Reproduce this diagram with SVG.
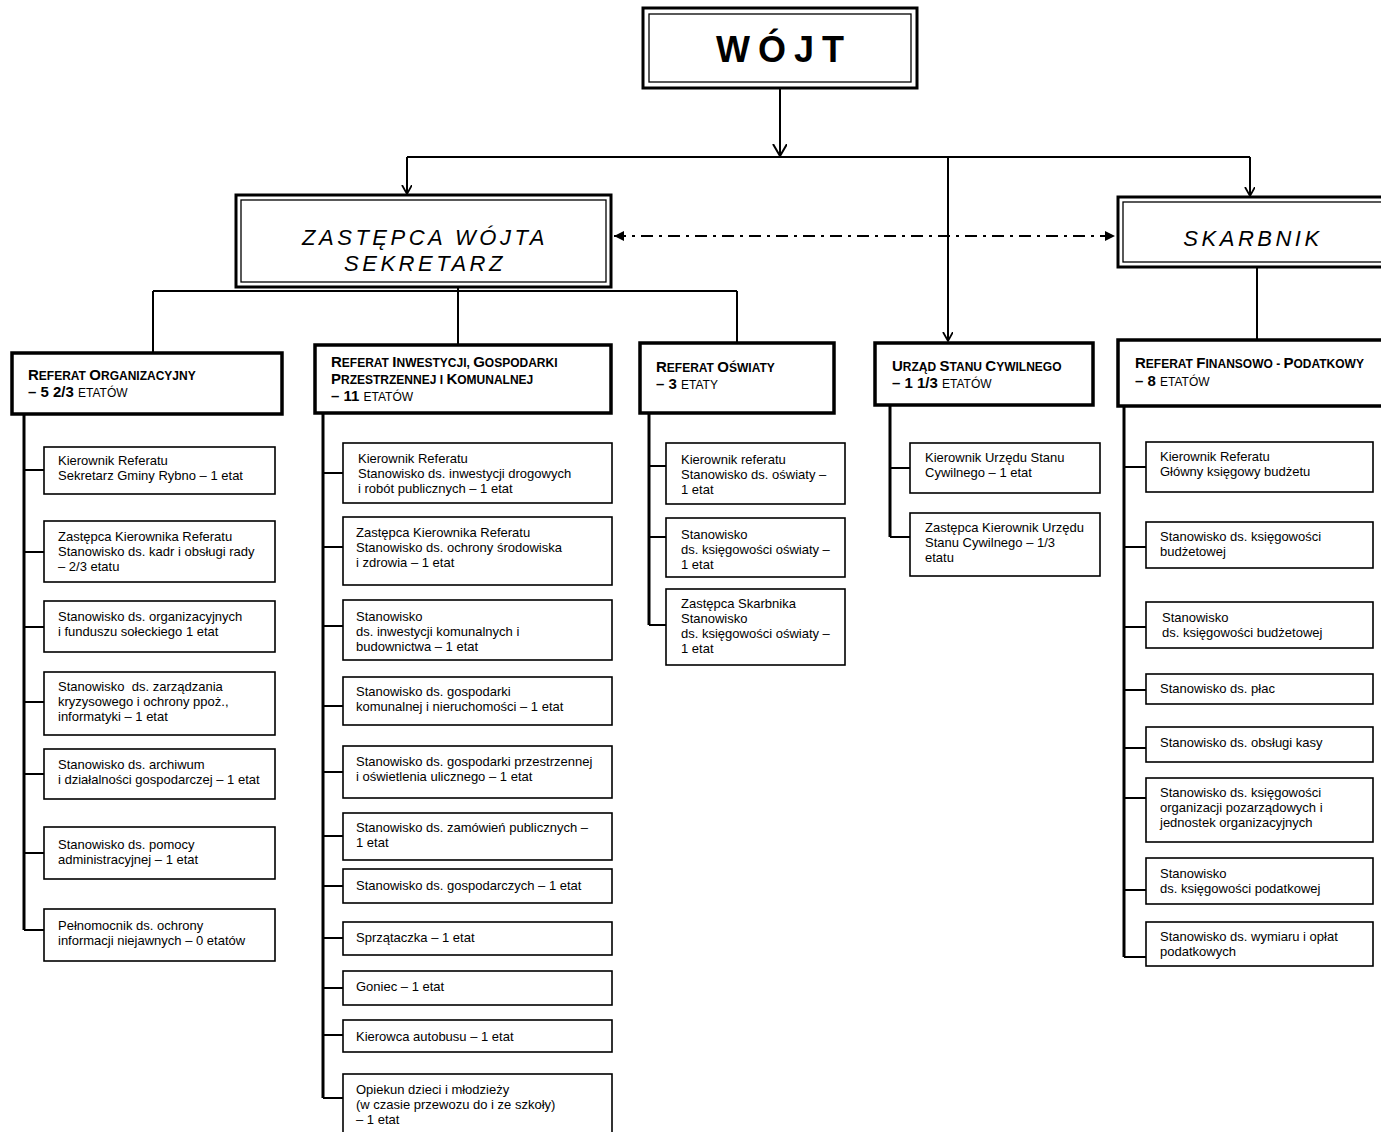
<svg xmlns="http://www.w3.org/2000/svg" width="1381" height="1132" viewBox="0 0 1381 1132">
<style>
.bg{fill:#ffffff}
.box{fill:#ffffff;stroke:#000;stroke-width:1.6}
.ref{fill:#ffffff;stroke:#000;stroke-width:3.5}
.dbl-o{fill:#ffffff;stroke:#000;stroke-width:3}
.dbl-i{fill:none;stroke:#000;stroke-width:1.3}
.ln{fill:none;stroke:#000;stroke-width:2}
.sp{fill:none;stroke:#000;stroke-width:3}
.br{fill:none;stroke:#000;stroke-width:2.2}
.dd{fill:none;stroke:#000;stroke-width:2;stroke-dasharray:12,6,3,6}
.t{font-family:"Liberation Sans",Arial,sans-serif;font-size:13px;fill:#000}
.h{font-family:"Liberation Sans",Arial,sans-serif;font-size:12px;font-weight:bold;fill:#000}
.L{font-size:15px}
.n{font-weight:normal}
.it{font-family:"Liberation Sans",Arial,sans-serif;font-size:22px;font-style:italic;letter-spacing:3.5px;fill:#000}
.w{font-family:"Liberation Sans",Arial,sans-serif;font-size:36px;font-weight:bold;letter-spacing:8px;fill:#000}
</style>
<defs>
<marker id="av" markerUnits="userSpaceOnUse" markerWidth="16" markerHeight="16" refX="12" refY="7" orient="auto">
<path d="M0,0 L12,7 L0,14" fill="none" stroke="#000" stroke-width="2"/>
</marker>
<marker id="avs" markerUnits="userSpaceOnUse" markerWidth="12" markerHeight="12" refX="9" refY="5" orient="auto">
<path d="M0,0 L9,5 L0,10" fill="none" stroke="#000" stroke-width="1.8"/>
</marker>
<marker id="af" markerUnits="userSpaceOnUse" markerWidth="12" markerHeight="12" refX="10" refY="5" orient="auto-start-reverse">
<path d="M0,0 L10,5 L0,10 Z" fill="#000"/>
</marker>
</defs>
<rect class="bg" x="0" y="0" width="1381" height="1132"/>

<g id="connectors">
<path class="ln" d="M780,88 V156" marker-end="url(#av)"/>
<path class="ln" d="M407,157 H1250"/>
<path class="ln" d="M407,157 V194" marker-end="url(#avs)"/>
<path class="ln" d="M948,157 V341" marker-end="url(#avs)"/>
<path class="ln" d="M1250,157 V196" marker-end="url(#avs)"/>
<path class="dd" d="M614,236 H1115" marker-start="url(#af)" marker-end="url(#af)"/>
<path class="ln" d="M458,287 V291 M153,291 H737 M153,291 V353 M458,291 V345 M737,291 V343"/>
<path class="ln" d="M1257,267 V340"/>
<path class="sp" d="M24,414 V930 M323,413 V1098 M649,413 V625 M890,405 V537 M1124,406 V957"/>
<path class="br" d="M24,470 H44 M24,552 H44 M24,627 H44 M24,702 H44 M24,774 H44 M24,853 H44 M24,930 H44"/>
<path class="br" d="M323,473 H343 M323,547 H343 M323,626 H343 M323,706 H343 M323,772 H343 M323,836 H343 M323,886 H343 M323,938 H343 M323,988 H343 M323,1035 H343 M323,1098 H343"/>
<path class="br" d="M649,466 H666 M649,537 H666 M649,625 H666"/>
<path class="br" d="M890,468 H910 M890,537 H910"/>
<path class="br" d="M1124,467 H1146 M1124,547 H1146 M1124,627 H1146 M1124,690 H1146 M1124,748 H1146 M1124,798 H1146 M1124,890 H1146 M1124,957 H1146"/>
</g>

<g id="wojt">
<rect class="dbl-o" x="643" y="8" width="274" height="80"/>
<rect class="dbl-i" x="649" y="14" width="262" height="68"/>
<text class="w" x="784" y="62" text-anchor="middle">WÓJT</text>
</g>

<g id="zastepca">
<rect class="dbl-o" x="236" y="195" width="375" height="92"/>
<rect class="dbl-i" x="241" y="200" width="365" height="82"/>
<text class="it" x="425" y="245" text-anchor="middle">ZASTĘPCA WÓJTA</text>
<text class="it" x="425" y="271" text-anchor="middle">SEKRETARZ</text>
</g>

<g id="skarbnik">
<rect class="dbl-o" x="1118" y="197" width="280" height="70"/>
<rect class="dbl-i" x="1123" y="202" width="270" height="60"/>
<text class="it" x="1253" y="246" text-anchor="middle">SKARBNIK</text>
</g>

<g id="ref-org">
<rect class="ref" x="12" y="353" width="270" height="61"/>
<text class="h" x="28" y="380"><tspan class="L">R</tspan>EFERAT <tspan class="L">O</tspan>RGANIZACYJNY</text>
<text class="h" x="28" y="397"><tspan class="L">– 5 2/3 </tspan><tspan class="n">ETATÓW</tspan></text>
</g>
<g id="ref-inw">
<rect class="ref" x="315" y="345" width="296" height="68"/>
<text class="h" x="331" y="367"><tspan class="L">R</tspan>EFERAT <tspan class="L">I</tspan>NWESTYCJI, <tspan class="L">G</tspan>OSPODARKI</text>
<text class="h" x="331" y="384"><tspan class="L">P</tspan>RZESTRZENNEJ I <tspan class="L">K</tspan>OMUNALNEJ</text>
<text class="h" x="331" y="401"><tspan class="L">– 11 </tspan><tspan class="n">ETATÓW</tspan></text>
</g>
<g id="ref-osw">
<rect class="ref" x="640" y="343" width="194" height="70"/>
<text class="h" x="656" y="372"><tspan class="L">R</tspan>EFERAT <tspan class="L">O</tspan>ŚWIATY</text>
<text class="h" x="656" y="389"><tspan class="L">– 3 </tspan><tspan class="n">ETATY</tspan></text>
</g>
<g id="ref-usc">
<rect class="ref" x="875" y="343" width="218" height="62"/>
<text class="h" x="892" y="371"><tspan class="L">U</tspan>RZĄD <tspan class="L">S</tspan>TANU <tspan class="L">C</tspan>YWILNEGO</text>
<text class="h" x="892" y="388"><tspan class="L">– 1 1/3 </tspan><tspan class="n">ETATÓW</tspan></text>
</g>
<g id="ref-fin">
<rect class="ref" x="1118" y="340" width="280" height="66"/>
<text class="h" x="1135" y="368"><tspan class="L">R</tspan>EFERAT <tspan class="L">F</tspan>INANSOWO - <tspan class="L">P</tspan>ODATKOWY</text>
<text class="h" x="1135" y="386"><tspan class="L">– 8 </tspan><tspan class="n">ETATÓW</tspan></text>
</g>

<g id="org-1"><rect class="box" x="44" y="447" width="231" height="47"/>
<text class="t" x="58" y="465">Kierownik Referatu</text><text class="t" x="58" y="480">Sekretarz Gminy Rybno – 1 etat</text></g>
<g id="org-2"><rect class="box" x="44" y="521" width="231" height="61"/>
<text class="t" x="58" y="541">Zastępca Kierownika Referatu</text><text class="t" x="58" y="556">Stanowisko ds. kadr i obsługi rady</text><text class="t" x="58" y="571">– 2/3 etatu</text></g>
<g id="org-3"><rect class="box" x="44" y="601" width="231" height="51"/>
<text class="t" x="58" y="621">Stanowisko ds. organizacyjnych</text><text class="t" x="58" y="636">i funduszu sołeckiego 1 etat</text></g>
<g id="org-4"><rect class="box" x="44" y="672" width="231" height="63"/>
<text class="t" x="58" y="691" xml:space="preserve">Stanowisko  ds. zarządzania</text><text class="t" x="58" y="706">kryzysowego i ochrony ppoż.,</text><text class="t" x="58" y="721">informatyki – 1 etat</text></g>
<g id="org-5"><rect class="box" x="44" y="749" width="231" height="50"/>
<text class="t" x="58" y="769">Stanowisko ds. archiwum</text><text class="t" x="58" y="784">i działalności gospodarczej – 1 etat</text></g>
<g id="org-6"><rect class="box" x="44" y="827" width="231" height="52"/>
<text class="t" x="58" y="849">Stanowisko ds. pomocy</text><text class="t" x="58" y="864">administracyjnej – 1 etat</text></g>
<g id="org-7"><rect class="box" x="44" y="909" width="231" height="52"/>
<text class="t" x="58" y="930">Pełnomocnik ds. ochrony</text><text class="t" x="58" y="945">informacji niejawnych – 0 etatów</text></g>

<g id="inw-1"><rect class="box" x="343" y="443" width="269" height="60"/>
<text class="t" x="358" y="463">Kierownik Referatu</text><text class="t" x="358" y="478">Stanowisko ds. inwestycji drogowych</text><text class="t" x="358" y="493">i robót publicznych – 1 etat</text></g>
<g id="inw-2"><rect class="box" x="343" y="517" width="269" height="68"/>
<text class="t" x="356" y="537">Zastępca Kierownika Referatu</text><text class="t" x="356" y="552">Stanowisko ds. ochrony środowiska</text><text class="t" x="356" y="567">i zdrowia – 1 etat</text></g>
<g id="inw-3"><rect class="box" x="343" y="600" width="269" height="60"/>
<text class="t" x="356" y="621">Stanowisko</text><text class="t" x="356" y="636">ds. inwestycji komunalnych i</text><text class="t" x="356" y="651">budownictwa – 1 etat</text></g>
<g id="inw-4"><rect class="box" x="343" y="677" width="269" height="48"/>
<text class="t" x="356" y="696">Stanowisko ds. gospodarki</text><text class="t" x="356" y="711">komunalnej i nieruchomości – 1 etat</text></g>
<g id="inw-5"><rect class="box" x="343" y="746" width="269" height="52"/>
<text class="t" x="356" y="766">Stanowisko ds. gospodarki przestrzennej</text><text class="t" x="356" y="781">i oświetlenia ulicznego – 1 etat</text></g>
<g id="inw-6"><rect class="box" x="343" y="813" width="269" height="47"/>
<text class="t" x="356" y="832">Stanowisko ds. zamówień publicznych –</text><text class="t" x="356" y="847">1 etat</text></g>
<g id="inw-7"><rect class="box" x="343" y="869" width="269" height="34"/>
<text class="t" x="356" y="890">Stanowisko ds. gospodarczych – 1 etat</text></g>
<g id="inw-8"><rect class="box" x="343" y="922" width="269" height="33"/>
<text class="t" x="356" y="942">Sprzątaczka – 1 etat</text></g>
<g id="inw-9"><rect class="box" x="343" y="971" width="269" height="34"/>
<text class="t" x="356" y="991">Goniec – 1 etat</text></g>
<g id="inw-10"><rect class="box" x="343" y="1020" width="269" height="32"/>
<text class="t" x="356" y="1041">Kierowca autobusu – 1 etat</text></g>
<g id="inw-11"><rect class="box" x="343" y="1074" width="269" height="70"/>
<text class="t" x="356" y="1094">Opiekun dzieci i młodzieży</text><text class="t" x="356" y="1109">(w czasie przewozu do i ze szkoły)</text><text class="t" x="356" y="1124">– 1 etat</text></g>

<g id="osw-1"><rect class="box" x="666" y="443" width="179" height="61"/>
<text class="t" x="681" y="464">Kierownik referatu</text><text class="t" x="681" y="479">Stanowisko ds. oświaty –</text><text class="t" x="681" y="494">1 etat</text></g>
<g id="osw-2"><rect class="box" x="666" y="518" width="179" height="59"/>
<text class="t" x="681" y="539">Stanowisko</text><text class="t" x="681" y="554">ds. księgowości oświaty –</text><text class="t" x="681" y="569">1 etat</text></g>
<g id="osw-3"><rect class="box" x="666" y="589" width="179" height="76"/>
<text class="t" x="681" y="608">Zastępca Skarbnika</text><text class="t" x="681" y="623">Stanowisko</text><text class="t" x="681" y="638">ds. księgowości oświaty –</text><text class="t" x="681" y="653">1 etat</text></g>

<g id="usc-1"><rect class="box" x="910" y="443" width="190" height="50"/>
<text class="t" x="925" y="462">Kierownik Urzędu Stanu</text><text class="t" x="925" y="477">Cywilnego – 1 etat</text></g>
<g id="usc-2"><rect class="box" x="910" y="513" width="190" height="63"/>
<text class="t" x="925" y="532">Zastępca Kierownik Urzędu</text><text class="t" x="925" y="547">Stanu Cywilnego – 1/3</text><text class="t" x="925" y="562">etatu</text></g>

<g id="fin-1"><rect class="box" x="1146" y="442" width="227" height="50"/>
<text class="t" x="1160" y="461">Kierownik Referatu</text><text class="t" x="1160" y="476">Główny księgowy budżetu</text></g>
<g id="fin-2"><rect class="box" x="1146" y="522" width="227" height="46"/>
<text class="t" x="1160" y="541">Stanowisko ds. księgowości</text><text class="t" x="1160" y="556">budżetowej</text></g>
<g id="fin-3"><rect class="box" x="1146" y="602" width="227" height="46"/>
<text class="t" x="1162" y="622">Stanowisko</text><text class="t" x="1162" y="637">ds. księgowości budżetowej</text></g>
<g id="fin-4"><rect class="box" x="1146" y="674" width="227" height="30"/>
<text class="t" x="1160" y="693">Stanowisko ds. płac</text></g>
<g id="fin-5"><rect class="box" x="1146" y="727" width="227" height="35"/>
<text class="t" x="1160" y="747">Stanowisko ds. obsługi kasy</text></g>
<g id="fin-6"><rect class="box" x="1146" y="778" width="227" height="64"/>
<text class="t" x="1160" y="797">Stanowisko ds. księgowości</text><text class="t" x="1160" y="812">organizacji pozarządowych i</text><text class="t" x="1160" y="827">jednostek organizacyjnych</text></g>
<g id="fin-7"><rect class="box" x="1146" y="858" width="227" height="46"/>
<text class="t" x="1160" y="878">Stanowisko</text><text class="t" x="1160" y="893">ds. księgowości podatkowej</text></g>
<g id="fin-8"><rect class="box" x="1146" y="922" width="227" height="44"/>
<text class="t" x="1160" y="941">Stanowisko ds. wymiaru i opłat</text><text class="t" x="1160" y="956">podatkowych</text></g>
</svg>
